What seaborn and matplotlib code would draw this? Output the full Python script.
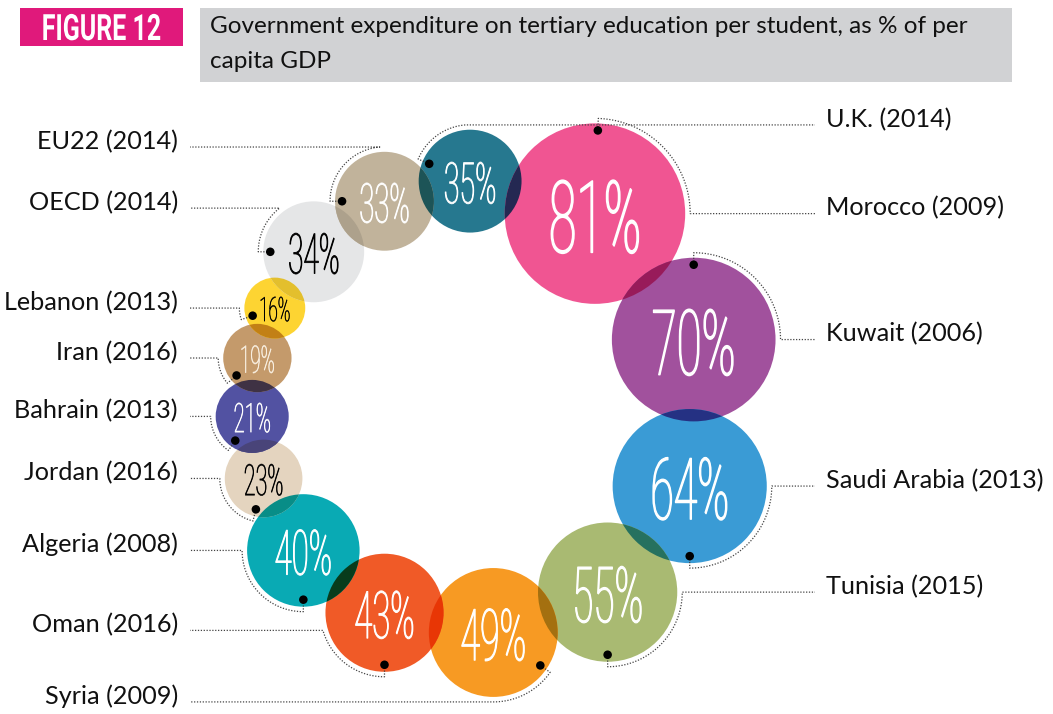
import numpy as np
import pandas as pd
import seaborn as sns
import matplotlib.pyplot as plt
from matplotlib.patches import Circle, Rectangle
from matplotlib.patheffects import AbstractPathEffect
from matplotlib.transforms import Affine2D
from matplotlib.colors import to_rgb

# data, in the order the bubbles run round the ring (clockwise from the top)
countries = ["U.K.", "Morocco", "Kuwait", "Saudi Arabia", "Tunisia", "Syria", "Oman",
             "Algeria", "Jordan", "Bahrain", "Iran", "Lebanon", "OECD", "EU22"]
years = [2014, 2009, 2006, 2013, 2015, 2009, 2016, 2008, 2016, 2013, 2016, 2013, 2014, 2014]
values = [35, 81, 70, 64, 55, 49, 43, 40, 23, 21, 19, 16, 34, 33]

fig_tag = "FIGURE 12"
title_lines = ["Government expenditure on tertiary education per student, as % of per",
               "capita GDP"]

bubble_colors = ["#26788f", "#f05592", "#a1519d", "#3a9bd5", "#a9ba72", "#f79a23",
                 "#f05a27", "#09aab4", "#e4d4bf", "#5252a2", "#c49a6b", "#fdd432",
                 "#e5e6e7", "#c1b39b"]
text_colors = ["white"] * 8 + ["black", "white", "#f8eedf", "black", "black", "white"]

# leader layout: label side, angle of the dot, angle where the line leaves the bubble
label_side = ["R", "R", "R", "R", "R", "L", "L", "L", "L", "L", "L", "L", "L", "L"]
dot_angle = [157, 88, 90, -90, -90, -35, -90, -90, -104, -125, -140, -161, 180, 180]
exit_angle = [95, 0, 0, 0, 0, -90, -164, 180, 180, 180, 180, 180, 128, 95]


class StretchY(AbstractPathEffect):
    """draw the glyphs taller than the font size (tall condensed look), still a text artist"""
    def __init__(self, sy, lw=0.0):
        super().__init__()
        self.sy = sy
        self.lw = lw

    def draw_path(self, renderer, gc, tpath, affine, rgbFace=None):
        gc0 = renderer.new_gc()
        gc0.copy_properties(gc)
        gc0.set_linewidth(self.lw)
        gc0.set_foreground(rgbFace)
        renderer.draw_path(gc0, tpath, Affine2D().scale(1, self.sy) + affine, rgbFace)
        gc0.restore()


sns.set_style("white")
plt.rcParams["font.family"] = ["Lato", "DejaVu Sans"]

fig = plt.figure(figsize=(10.53, 7.14), dpi=100)
ax = fig.add_axes([0, 0, 1, 1])

# bubble sizes and ring layout
vals = np.array(values, dtype=float)
radius = 4.75 * vals ** 0.67
pair = radius + np.roll(radius, -1)
gaps = pair ** 1.15
gaps = gaps / gaps.sum() * 360
theta = np.radians(92 - np.concatenate([[0], np.cumsum(gaps)[:-1]]))
ring_x, ring_y, ring_r = 478, 407, 226
cx = ring_x + ring_r * np.cos(theta)
cy = ring_y - ring_r * np.sin(theta)

circles = []
for x, y, r, c in zip(cx, cy, radius, bubble_colors):
    p = Circle((x, y), r, facecolor=c, edgecolor="none", zorder=2)
    ax.add_patch(p)
    circles.append(p)

# overlaps of neighbours look like a multiply blend
n = len(values)
for i in range(n):
    j = (i + 1) % n
    mix = tuple(a * b for a, b in zip(to_rgb(bubble_colors[i]), to_rgb(bubble_colors[j])))
    p = Circle((cx[j], cy[j]), radius[j], facecolor=mix, edgecolor="none", zorder=3)
    ax.add_patch(p)
    p.set_clip_path(circles[i])

# leaders
dots = []
for i in range(n):
    a0 = np.radians(dot_angle[i])
    diff = (exit_angle[i] - dot_angle[i] + 180) % 360 - 180
    arc = np.radians(np.linspace(dot_angle[i], dot_angle[i] + diff, 60))
    ra = radius[i] + 5
    rd = radius[i] - 7
    dx, dy = cx[i] + rd * np.cos(a0), cy[i] - rd * np.sin(a0)
    dots.append((dx, dy))
    xs = [dx] + list(cx[i] + ra * np.cos(arc))
    ys = [dy] + list(cy[i] - ra * np.sin(arc))
    line_y = ys[-1]
    end_x = 815 if label_side[i] == "R" else 190
    xs.append(end_x)
    ys.append(line_y)
    ax.plot(xs, ys, color="#444444", lw=0.9, ls=(0, (1, 1.3)), zorder=4)
    label = f"{countries[i]} ({years[i]})"
    if label_side[i] == "R":
        ax.text(826, line_y + 2, label, ha="left", va="baseline", fontsize=18.2,
                color="#111111")
    else:
        ax.text(178, line_y + 2, label, ha="right", va="baseline", fontsize=18.2,
                color="#111111")

dot_df = pd.DataFrame(dots, columns=["x", "y"])
sns.scatterplot(data=dot_df, x="x", y="y", color="black", s=38, edgecolor="none",
                legend=False, ax=ax, zorder=6)

# percentages in a tall, narrow face
for i in range(n):
    fs = 0.40 * radius[i]
    cap = 0.8 * radius[i]
    ax.text(cx[i], cy[i] + cap / 2 + 0.03 * radius[i], f"{values[i]}%",
            ha="center", va="baseline", fontsize=fs, family=["Roboto", "DejaVu Sans"],
            weight="light", color=text_colors[i], zorder=7,
            path_effects=[StretchY(2.0, lw=0.012 * radius[i])])

# header
ax.add_patch(Rectangle((20, 8), 163, 38, facecolor="#e0197b", edgecolor="none"))
ax.add_patch(Rectangle((200, 8), 812, 74, facecolor="#d1d2d4", edgecolor="none"))
ax.text(101.5, 40, fig_tag, ha="center", va="baseline", fontsize=18, weight="bold",
        family=["Roboto", "DejaVu Sans"], color="white", path_effects=[StretchY(1.45)])
ax.text(210, 33, title_lines[0], ha="left", va="baseline", fontsize=17.5, color="#111111")
ax.text(210, 68, title_lines[1], ha="left", va="baseline", fontsize=17.5, color="#111111")

ax.set_xlim(0, 1053)
ax.set_ylim(714, 0)
ax.axis("off")

fig.savefig("out.png", dpi=100)
